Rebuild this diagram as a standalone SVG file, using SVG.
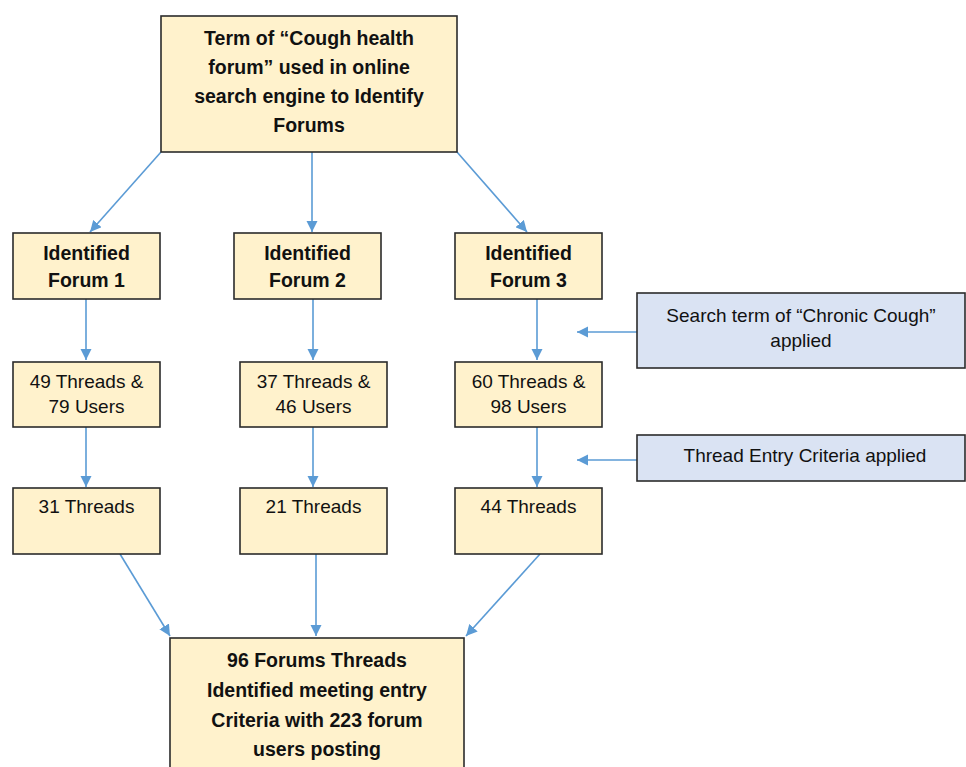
<svg xmlns="http://www.w3.org/2000/svg" width="966" height="767" viewBox="0 0 966 767">
<style>
.box{fill:#fff2cc;stroke:#2b2b2b;stroke-width:1.6}
.blue{fill:#dae3f3;stroke:#2b2b2b;stroke-width:1.6}
.t{font-family:"Liberation Sans",Arial,sans-serif;font-size:19px;fill:#111;text-anchor:middle}
.b{font-weight:bold;font-size:19.5px}
.c{fill:none;stroke:#5b9bd5;stroke-width:1.6;marker-end:url(#ah)}
</style>
<defs>
<marker id="ah" viewBox="0 0 10 10" refX="10" refY="5" markerWidth="7" markerHeight="7" markerUnits="strokeWidth" orient="auto">
<path d="M0,0 L10,5 L0,10 z" fill="#5b9bd5"/>
</marker>
</defs>
<rect width="966" height="767" fill="#fff"/>
<g id="connectors">
<line class="c" x1="161" y1="152" x2="90" y2="232"/>
<line class="c" x1="312" y1="152" x2="312" y2="232"/>
<line class="c" x1="457" y1="152" x2="527" y2="232"/>
<line class="c" x1="86" y1="299" x2="86" y2="360"/>
<line class="c" x1="313" y1="299" x2="313" y2="360"/>
<line class="c" x1="537" y1="299" x2="537" y2="360"/>
<line class="c" x1="86" y1="427" x2="86" y2="487"/>
<line class="c" x1="313" y1="427" x2="313" y2="487"/>
<line class="c" x1="537" y1="427" x2="537" y2="487"/>
<line class="c" x1="637" y1="332" x2="577" y2="332"/>
<line class="c" x1="637" y1="460" x2="577" y2="460"/>
<line class="c" x1="120" y1="554" x2="170" y2="636"/>
<line class="c" x1="316" y1="554" x2="316" y2="636"/>
<line class="c" x1="540" y1="554" x2="466" y2="636"/>
</g>
<g id="top">
<rect class="box" x="161" y="16" width="296" height="136"/>
<text class="t b" x="309" y="45">Term of “Cough health</text>
<text class="t b" x="309" y="74">forum” used in online</text>
<text class="t b" x="309" y="103">search engine to Identify</text>
<text class="t b" x="309" y="132">Forums</text>
</g>
<g id="forum1">
<rect class="box" x="13" y="233" width="147" height="66"/>
<text class="t b" x="86.5" y="259.5">Identified</text>
<text class="t b" x="86.5" y="286.5">Forum 1</text>
</g>
<g id="forum2">
<rect class="box" x="234" y="233" width="147" height="66"/>
<text class="t b" x="307.5" y="259.5">Identified</text>
<text class="t b" x="307.5" y="286.5">Forum 2</text>
</g>
<g id="forum3">
<rect class="box" x="455" y="233" width="147" height="66"/>
<text class="t b" x="528.5" y="259.5">Identified</text>
<text class="t b" x="528.5" y="286.5">Forum 3</text>
</g>
<g id="search">
<rect class="blue" x="637" y="293" width="328" height="75"/>
<text class="t" x="801" y="321.5">Search term of “Chronic Cough”</text>
<text class="t" x="801" y="346.5">applied</text>
</g>
<g id="r2c1">
<rect class="box" x="13" y="362" width="147" height="65"/>
<text class="t" x="86.5" y="388">49 Threads &amp;</text>
<text class="t" x="86.5" y="413">79 Users</text>
</g>
<g id="r2c2">
<rect class="box" x="240" y="362" width="147" height="65"/>
<text class="t" x="313.5" y="388">37 Threads &amp;</text>
<text class="t" x="313.5" y="413">46 Users</text>
</g>
<g id="r2c3">
<rect class="box" x="455" y="362" width="147" height="65"/>
<text class="t" x="528.5" y="388">60 Threads &amp;</text>
<text class="t" x="528.5" y="413">98 Users</text>
</g>
<g id="criteria">
<rect class="blue" x="637" y="435" width="328" height="46"/>
<text class="t" x="805" y="461.5">Thread Entry Criteria applied</text>
</g>
<g id="r3c1">
<rect class="box" x="13" y="488" width="147" height="66"/>
<text class="t" x="86.5" y="513">31 Threads</text>
</g>
<g id="r3c2">
<rect class="box" x="240" y="488" width="147" height="66"/>
<text class="t" x="313.5" y="513">21 Threads</text>
</g>
<g id="r3c3">
<rect class="box" x="455" y="488" width="147" height="66"/>
<text class="t" x="528.5" y="513">44 Threads</text>
</g>
<g id="final">
<rect class="box" x="170" y="638" width="294" height="140"/>
<text class="t b" x="317" y="666.5">96 Forums Threads</text>
<text class="t b" x="317" y="696.5">Identified meeting entry</text>
<text class="t b" x="317" y="726.5">Criteria with 223 forum</text>
<text class="t b" x="317" y="755.5">users posting</text>
</g>
</svg>
